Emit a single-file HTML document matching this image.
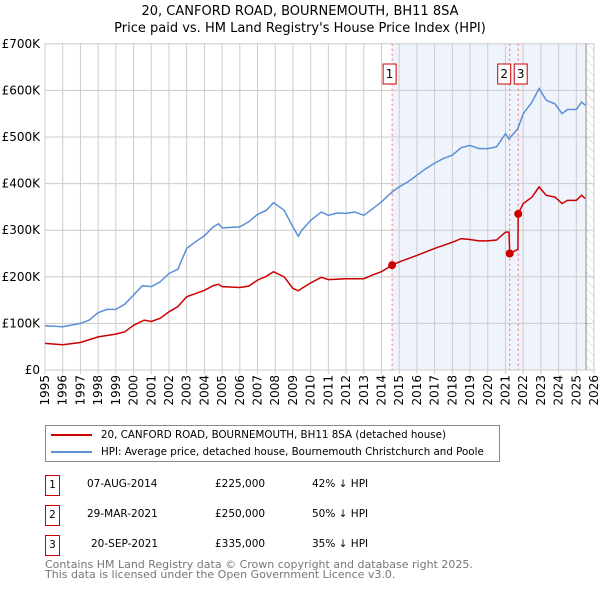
<!DOCTYPE html>
<html><head><meta charset="utf-8"><style>
body{margin:0;width:600px;height:590px;background:#fff;font-family:"DejaVu Sans","Liberation Sans",sans-serif;position:relative;overflow:hidden}
.t{position:absolute;white-space:nowrap;color:#000}
</style></head><body>
<div class="t" style="left:0;width:600px;text-align:center;top:3px;font-size:13px;line-height:17px">20, CANFORD ROAD, BOURNEMOUTH, BH11 8SA<br>Price paid vs. HM Land Registry's House Price Index (HPI)</div>
<svg id="chart" width="600" height="415" style="position:absolute;left:0;top:0" font-family="DejaVu Sans, Liberation Sans, sans-serif" font-size="12"></svg>
<div style="position:absolute;left:45px;top:425px;width:453px;height:35px;border:1px solid #888;font-size:10.3px">
 <div style="position:absolute;left:5px;top:3px"><span style="display:inline-block;width:41px;height:2px;background:#cc0000;vertical-align:middle;margin-right:9px"></span>20, CANFORD ROAD, BOURNEMOUTH, BH11 8SA (detached house)</div>
 <div style="position:absolute;left:5px;top:20px"><span style="display:inline-block;width:41px;height:2px;background:#5b8fd6;vertical-align:middle;margin-right:9px"></span>HPI: Average price, detached house, Bournemouth Christchurch and Poole</div>
</div>
<div id="rows"></div>
<div class="t" style="left:45px;top:560px;font-size:11px;line-height:10px;color:#777">Contains HM Land Registry data © Crown copyright and database right 2025.<br>This data is licensed under the Open Government Licence v3.0.</div>
<script>
const hpiYears=[1995,1996,1997,1997.5,1998,1998.5,1999,1999.5,2000,2000.5,2001,2001.5,2002,2002.5,2003,2003.5,2004,2004.5,2004.8,2005,2005.5,2006,2006.5,2007,2007.5,2007.9,2008.5,2009,2009.3,2009.5,2010,2010.6,2011,2011.5,2012,2012.5,2013,2013.5,2014,2014.6,2015,2015.5,2016,2016.5,2017,2017.5,2018,2018.5,2019,2019.5,2020,2020.5,2021.0,2021.2,2021.7,2022,2022.5,2022.9,2023.3,2023.8,2024.2,2024.5,2025,2025.3,2025.5];
const hpiValues=[95,93,100,107,123,130,130,141,161,181,179,189,207,216,261,275,288,307,314,305,306,307,318,334,343,359,343,307,287,300,321,339,332,337,336,339,332,346,361,382,393,404,418,432,444,454,461,477,482,475,475,479,507,496,518,550,575,604,579,571,550,559,559,575,568];
const redYears=[1995,1996,1997,1998,1999,1999.5,2000,2000.6,2001,2001.5,2002,2002.5,2003,2003.5,2004,2004.5,2004.8,2005,2006,2006.5,2007,2007.5,2007.9,2008.5,2009,2009.3,2009.5,2010,2010.6,2011,2012,2013,2013.5,2014,2014.6,2015,2016,2017,2018,2018.5,2019,2019.5,2020,2020.5,2021.0,2021.2,2021.24,2021.7,2021.72,2022,2022.5,2022.9,2023.3,2023.8,2024.2,2024.5,2025,2025.3,2025.5];
const redValues=[57,54,59,71,77,82,96,107,104,111,125,136,157,164,171,181,184,179,177,180,193,201,211,200,175,170,175,187,199,194,196,196,204,211,225,232,246,261,274,282,280,277,277,279,296,296,250,259,335,357,371,393,375,371,357,364,364,375,368];
const saleYears=[2014.6,2021.24,2021.72];
const saleValues=[225,250,335];
const saleLabels=["1","2","3"];
const yTicks=[0,100,200,300,400,500,600,700];
const yTickLabels=["£0","£100K","£200K","£300K","£400K","£500K","£600K","£700K"];
const xTicks=[];for(let y=1995;y<=2026;y++)xTicks.push(y);
const tableDates=["07-AUG-2014","29-MAR-2021","20-SEP-2021"];
const tablePrices=["£225,000","£250,000","£335,000"];
const tableDiffs=["42% ↓ HPI","50% ↓ HPI","35% ↓ HPI"];

const X=y=>45+(y-1995)*17.71, Y=v=>370-v*0.466;
const svg=document.getElementById('chart'),NS='http://www.w3.org/2000/svg';
function mk(tag,at,parent){const e=document.createElementNS(NS,tag);for(const k in at)e.setAttribute(k,at[k]);(parent||svg).appendChild(e);return e;}
const defs=mk('defs',{});
const pat=mk('pattern',{id:'hatch',width:6,height:6,patternUnits:'userSpaceOnUse',patternTransform:'rotate(-45)'},defs);
mk('line',{x1:0,y1:0,x2:0,y2:6,stroke:'#ccc','stroke-width':1},pat);
let e=mk('rect',{x:X(saleYears[0]),y:Y(700),width:X(2025.55)-X(saleYears[0]),height:Y(0)-Y(700),fill:'#eef3fc'});

e=mk('rect',{x:X(2025.55),y:Y(700),width:X(2026)-X(2025.55),height:Y(0)-Y(700),fill:'url(#hatch)'});

xTicks.forEach(t=>{const l=mk('line',{x1:X(t),x2:X(t),y1:Y(700),y2:Y(0)+4,stroke:'#ccc'});

const tx=mk('text',{x:0,y:0,transform:`translate(${X(t)+4},${Y(0)+5}) rotate(-90)`,'text-anchor':'end','font-size':12});tx.textContent=t;
});
yTicks.forEach((t,i)=>{const l=mk('line',{x1:45,x2:X(2026),y1:Y(t),y2:Y(t),stroke:'#ccc'});

const tx=mk('text',{x:40,y:Y(t)+4,'text-anchor':'end','font-size':12});tx.textContent=yTickLabels[i];
});
e=mk('line',{x1:X(2025.55),x2:X(2025.55),y1:Y(700),y2:Y(0),stroke:'#888'});

saleYears.forEach((s,i)=>{const l=mk('line',{x1:X(s),x2:X(s),y1:Y(700),y2:Y(0),stroke:'#ff6666','stroke-dasharray':'2,3'});
});
const pts=(xs,vs)=>xs.map((x,i)=>X(x).toFixed(1)+','+Y(vs[i]).toFixed(1)).join(' ');
e=mk('polyline',{points:pts(hpiYears,hpiValues),fill:'none',stroke:'#5b8fd6','stroke-width':1.5});

e=mk('polyline',{points:pts(redYears,redValues),fill:'none',stroke:'#cc0000','stroke-width':1.5});

saleYears.forEach((s,i)=>{const c=mk('circle',{cx:X(s),cy:Y(saleValues[i]),r:4,fill:'#cc0000'});

const off=i===1?-12:i===2?-4:-9;
const r=mk('rect',{x:X(s)+off,y:64,width:13,height:20,fill:'#fff',stroke:'#cc0000'});

const t=mk('text',{x:X(s)+off+6.5,y:78,'text-anchor':'middle','font-size':12});t.textContent=saleLabels[i];
});
const rows=document.getElementById('rows');
saleLabels.forEach((lab,i)=>{const top=475+i*30;
const d=document.createElement('div');


d.style.cssText=`position:absolute;left:0;top:${top}px;width:600px;height:22px;font-size:10.5px`;
d.innerHTML=`<div style="position:absolute;left:45px;top:0;width:13px;height:19px;border:1px solid #cc0000;text-align:center;line-height:19px">${lab}</div>`+
`<div style="position:absolute;left:${i===2?91:87}px;top:3px">${tableDates[i]}</div>`+
`<div style="position:absolute;left:215px;top:3px">${tablePrices[i]}</div>`+
`<div style="position:absolute;left:312px;top:3px">${tableDiffs[i]}</div>`;
rows.appendChild(d);});
</script>
</body></html>
